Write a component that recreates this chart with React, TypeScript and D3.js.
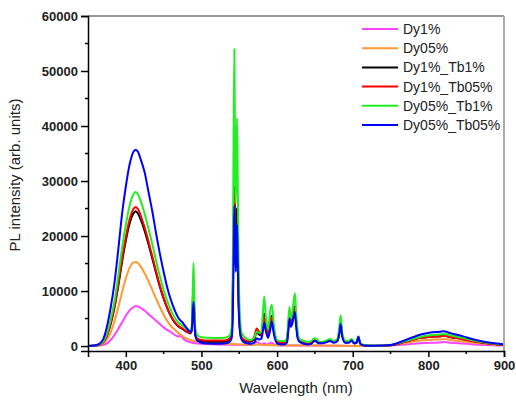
import React, { useEffect, useRef } from 'react';
import * as d3 from 'd3';

// spectra: [wavelength nm, PL intensity]
const dy1: [number, number][] = [
  [350, 0], [360, 30], [365, 80], [370, 200], [375, 500], [380, 1100], [385, 2000], [390, 3100],
  [395, 4300], [400, 5500], [405, 6500], [410, 7100], [413, 7300], [416, 7200], [420, 6900],
  [425, 6400], [430, 5800], [435, 5200], [440, 4600], [445, 4000], [450, 3400], [455, 2900],
  [460, 2500], [465, 2000], [470, 1700], [472, 1900], [475, 1500], [478, 1100], [482, 800],
  [485, 700], [490, 550], [500, 400], [520, 300], [540, 250], [560, 200], [570, 300], [573, 800],
  [576, 500], [580, 300], [583, 500], [586, 300], [590, 500], [593, 600], [596, 300], [600, 150],
  [650, 80], [700, 30], [730, 0], [750, 100], [770, 300], [790, 500], [805, 600], [815, 650],
  [820, 750], [830, 600], [845, 450], [860, 300], [875, 200], [890, 120], [900, 100],
];

const dy05: [number, number][] = [
  [350, 0], [360, 50], [365, 150], [370, 450], [375, 1200], [380, 2500], [385, 4500], [390, 7000],
  [395, 9800], [400, 12300], [405, 14200], [410, 15200], [413, 15300], [416, 15100], [420, 14400],
  [425, 13200], [430, 11800], [435, 10200], [440, 8600], [445, 7100], [450, 5700], [455, 4500],
  [460, 3600], [465, 2900], [470, 2300], [475, 1800], [478, 1500], [482, 1250], [485, 1100],
  [490, 950], [495, 850], [500, 750], [510, 600], [520, 500], [530, 400], [540, 350], [550, 300],
  [560, 250], [570, 220], [575, 300], [580, 200], [600, 150], [650, 80], [700, 30], [730, 0],
  [750, 150], [770, 600], [790, 1000], [805, 1150], [815, 1200], [820, 1300], [830, 1100],
  [845, 850], [860, 600], [875, 400], [890, 250], [900, 150],
];

const dy1Tb1: [number, number][] = [
  [350, 0], [360, 100], [365, 250], [370, 700], [375, 1900], [380, 4000], [385, 7000], [390, 10900],
  [395, 15300], [400, 19200], [405, 22300], [410, 24100], [413, 24500], [416, 24100], [420, 22900],
  [425, 20900], [430, 18500], [435, 15900], [440, 13300], [445, 10800], [450, 8600], [455, 6800],
  [460, 5300], [465, 4200], [470, 3500], [475, 3100], [478, 2800], [482, 2500], [485, 2300],
  [487, 2700], [488.5, 8000], [489.5, 10500], [490.5, 6500], [492, 2000], [495, 1100], [500, 900],
  [510, 800], [520, 800], [530, 800], [535, 1000], [538, 1300], [540, 2200], [541.5, 10000],
  [542.5, 22000], [543.5, 29000], [544.5, 25000], [545.3, 21000], [546, 23000], [547, 25000],
  [548, 18000], [549, 9500], [551, 3000], [553, 1400], [556, 1000], [560, 800], [565, 800],
  [570, 1400], [573, 2500], [576, 2100], [579, 1900], [581, 3800], [583, 5900], [585, 3800],
  [588, 2000], [591, 4200], [593, 5500], [596, 2600], [600, 800], [605, 500], [610, 500], [613, 900],
  [615, 3800], [616.5, 5800], [618, 4200], [620, 4800], [621.5, 6200], [623.5, 7200], [625, 5000],
  [627, 2000], [630, 900], [640, 400], [645, 500], [649, 1000], [652, 900], [655, 600], [660, 600],
  [665, 800], [670, 1000], [675, 700], [680, 1100], [682.5, 2800], [684, 4300], [686, 2000],
  [690, 700], [695, 700], [698.5, 1000], [702, 500], [705, 600], [707.5, 1500], [710, 400],
  [715, 100], [730, 50], [750, 150], [770, 800], [790, 1500], [805, 1700], [815, 1800], [820, 1900],
  [830, 1600], [845, 1300], [860, 850], [875, 550], [890, 330], [900, 200],
];

const dy1Tb05: [number, number][] = [
  [350, 0], [360, 100], [365, 250], [370, 700], [375, 2000], [380, 4200], [385, 7300], [390, 11300],
  [395, 15800], [400, 19800], [405, 23000], [410, 24900], [413, 25300], [416, 24900], [420, 23600],
  [425, 21500], [430, 19000], [435, 16300], [440, 13600], [445, 11000], [450, 8800], [455, 6900],
  [460, 5400], [465, 4300], [470, 3600], [475, 3200], [478, 2900], [482, 2600], [485, 2400],
  [487, 2700], [488.5, 7000], [489.5, 9500], [490.5, 6000], [492, 2000], [495, 1300], [500, 1100],
  [510, 1000], [520, 1000], [530, 1000], [535, 1200], [538, 1500], [540, 2500], [541.5, 10000],
  [542.5, 21000], [543.5, 28000], [544.5, 24000], [545.3, 19000], [546, 19500], [547, 21000],
  [548, 16000], [549, 9000], [551, 3000], [553, 1600], [556, 1200], [560, 1000], [565, 1000],
  [570, 1800], [573, 3200], [576, 2600], [579, 2000], [581, 3500], [583, 5300], [585, 3500],
  [588, 2200], [591, 4500], [593, 5200], [596, 2500], [600, 900], [605, 600], [610, 600], [613, 900],
  [615, 3600], [616.5, 5500], [618, 4000], [620, 4600], [621.5, 6000], [623.5, 7000], [625, 4800],
  [627, 1900], [630, 900], [640, 400], [645, 500], [649, 1000], [652, 900], [655, 600], [660, 600],
  [665, 800], [670, 1000], [675, 700], [680, 1100], [682.5, 2700], [684, 4200], [686, 2000],
  [690, 700], [695, 700], [698.5, 1000], [702, 500], [705, 600], [707.5, 1500], [710, 400],
  [715, 100], [730, 50], [750, 150], [770, 800], [790, 1500], [805, 1700], [815, 1750], [820, 1850],
  [830, 1600], [845, 1250], [860, 850], [875, 550], [890, 330], [900, 200],
];

const dy05Tb1: [number, number][] = [
  [350, 0], [360, 100], [365, 300], [370, 800], [375, 2300], [380, 4800], [385, 8200], [390, 12800],
  [395, 17800], [400, 22000], [405, 25500], [410, 27600], [413, 28000], [416, 27600], [420, 26200],
  [425, 24000], [430, 21300], [435, 18500], [440, 15500], [445, 12700], [450, 10200], [455, 8100],
  [460, 6400], [465, 5100], [470, 4200], [475, 3700], [478, 3400], [482, 3000], [485, 2800],
  [487, 3200], [488.5, 10000], [489.5, 15100], [490.5, 9000], [492, 3000], [495, 1900], [500, 1600],
  [510, 1500], [520, 1450], [530, 1500], [535, 1700], [538, 2100], [540, 3500], [541.5, 15000],
  [542.5, 38000], [543.5, 54000], [544.5, 33000], [545.3, 26000], [546, 35000], [547, 41400],
  [548, 30000], [549, 16000], [551, 5000], [553, 2500], [556, 1800], [560, 1300], [565, 1100],
  [570, 1600], [573, 2600], [576, 2400], [579, 2600], [581, 5500], [583, 9000], [585, 5500],
  [588, 3000], [591, 6500], [593, 7500], [596, 3500], [600, 1100], [605, 900], [610, 900],
  [613, 1500], [615, 5000], [616.5, 7100], [618, 5000], [620, 6000], [621.5, 7800], [623.5, 9600],
  [625, 6500], [627, 3000], [630, 1200], [640, 800], [645, 900], [649, 1400], [652, 1300],
  [655, 900], [660, 800], [665, 1000], [670, 1300], [675, 900], [680, 1400], [682.5, 3800],
  [684, 5600], [686, 2600], [690, 1000], [695, 900], [698.5, 1300], [702, 700], [705, 800],
  [707.5, 1800], [710, 500], [715, 200], [730, 50], [750, 200], [770, 900], [790, 1700], [805, 2000],
  [815, 2100], [820, 2200], [830, 1900], [845, 1500], [860, 1000], [875, 650], [890, 400], [900, 250],
];

const dy05Tb05: [number, number][] = [
  [350, 0], [360, 150], [365, 400], [370, 1200], [375, 3500], [380, 7000], [385, 11500], [390, 17500],
  [395, 24000], [400, 29000], [405, 33000], [410, 35300], [413, 35700], [416, 35300], [420, 33800],
  [425, 31500], [430, 28000], [435, 24500], [440, 20500], [445, 16800], [450, 13500], [455, 10500],
  [460, 8200], [465, 6400], [470, 5000], [475, 4300], [478, 3700], [482, 3000], [485, 2600],
  [487, 2800], [488.5, 6000], [489.5, 8000], [490.5, 5000], [492, 1800], [495, 900], [500, 600],
  [510, 450], [520, 400], [530, 450], [535, 600], [538, 900], [540, 1500], [541.5, 6000],
  [542.5, 16000], [543.5, 25500], [544.5, 20000], [545.3, 13500], [546, 17000], [547, 22000],
  [548, 15000], [549, 8000], [551, 2500], [553, 1200], [556, 700], [560, 500], [565, 400],
  [570, 700], [573, 1400], [576, 1200], [579, 1300], [581, 2500], [583, 4200], [585, 2800],
  [588, 1500], [591, 3000], [593, 4400], [596, 2000], [600, 500], [605, 300], [610, 300], [613, 600],
  [615, 3000], [616.5, 5000], [618, 3500], [620, 4000], [621.5, 5000], [623.5, 6200], [625, 4000],
  [627, 1500], [630, 700], [640, 300], [645, 400], [649, 900], [652, 800], [655, 500], [660, 500],
  [665, 700], [670, 900], [675, 600], [680, 1000], [682.5, 2500], [684, 4000], [686, 1800],
  [690, 600], [695, 600], [698.5, 1000], [702, 500], [705, 600], [707.5, 1700], [710, 400],
  [715, 100], [730, 50], [750, 200], [770, 1100], [790, 2100], [805, 2500], [815, 2600], [820, 2700],
  [830, 2300], [845, 1800], [860, 1200], [875, 750], [890, 450], [900, 300],
];

const seriesNames = ['Dy1%', 'Dy05%', 'Dy1%_Tb1%', 'Dy1%_Tb05%', 'Dy05%_Tb1%', 'Dy05%_Tb05%'];
const seriesData = [dy1, dy05, dy1Tb1, dy1Tb05, dy05Tb1, dy05Tb05];
const seriesColors = ['#ff44ff', '#ff9933', '#000000', '#ff0000', '#22ee22', '#0000ff'];

const xTicks = [400, 500, 600, 700, 800, 900];
const yTicks = [0, 10000, 20000, 30000, 40000, 50000, 60000];

export default function App() {
  const svgRef = useRef<SVGSVGElement>(null);

  useEffect(() => {
    const width = 516;
    const height = 400;
    const m = { left: 88, right: 504, top: 16, bottom: 351 };
    const font = '"Liberation Sans", Arial, sans-serif';

    const svg = d3.select(svgRef.current);
    svg.selectAll('*').remove();
    svg.attr('width', width).attr('height', height);

    const x = d3.scaleLinear().domain([350, 900]).range([m.left, m.right]);
    const y = d3.scaleLinear().domain([-900, 60000]).range([m.bottom, m.top]);

    // spectra
    const line = d3.line<[number, number]>()
      .x(d => x(d[0]))
      .y(d => y(d[1]))
      .curve(d3.curveMonotoneX);

    seriesData.forEach((s, i) => {
      svg.append('path')
        .attr('d', line(s))
        .attr('fill', 'none')
        .attr('stroke', seriesColors[i])
        .attr('stroke-width', 2)
        .attr('stroke-linejoin', 'round');
    });

    // frame
    svg.append('line')
      .attr('x1', m.left).attr('x2', m.right).attr('y1', m.top).attr('y2', m.top)
      .attr('stroke', '#333').attr('stroke-width', 1);
    svg.append('line')
      .attr('x1', m.right).attr('x2', m.right).attr('y1', m.top).attr('y2', m.bottom)
      .attr('stroke', '#aaa').attr('stroke-width', 2);

    // x axis
    const xAxis = d3.axisBottom(x).tickValues(xTicks).tickSize(6).tickPadding(4)
      .tickFormat(d3.format('d'));
    const gx = svg.append('g')
      .attr('transform', `translate(0,${m.bottom})`)
      .call(xAxis);
    gx.select('.domain').attr('stroke', '#000').attr('stroke-width', 1.5);
    gx.selectAll('.tick line').attr('stroke-width', 1.5);
    gx.selectAll('text')
      .attr('font-family', font).attr('font-size', 13).attr('font-weight', 'bold')
      .attr('fill', '#222');
    gx.selectAll('line.minor')
      .data(d3.range(450, 900, 100))
      .enter().append('line')
      .attr('x1', d => x(d)).attr('x2', d => x(d))
      .attr('y1', 0).attr('y2', 3)
      .attr('stroke', '#000').attr('stroke-width', 1.5);

    // y axis
    const yAxis = d3.axisLeft(y).tickValues(yTicks).tickSize(7).tickPadding(3)
      .tickFormat(d3.format('d'));
    const gy = svg.append('g')
      .attr('transform', `translate(${m.left},0)`)
      .call(yAxis);
    gy.select('.domain').attr('stroke', '#000').attr('stroke-width', 1.5);
    gy.selectAll('.tick line').attr('stroke-width', 1.5);
    gy.selectAll('text')
      .attr('font-family', font).attr('font-size', 13).attr('font-weight', 'bold')
      .attr('fill', '#222');
    gy.selectAll('line.minor')
      .data(d3.range(5000, 60000, 10000))
      .enter().append('line')
      .attr('x1', 0).attr('x2', -3)
      .attr('y1', d => y(d)).attr('y2', d => y(d))
      .attr('stroke', '#000').attr('stroke-width', 1.5);

    // axis titles
    svg.append('text')
      .attr('transform', 'translate(20,175) rotate(-90)')
      .attr('text-anchor', 'middle')
      .attr('font-family', font).attr('font-size', 15)
      .attr('fill', '#222')
      .text('PL intensity (arb. units)');

    svg.append('text')
      .attr('x', (m.left + m.right) / 2)
      .attr('y', 393)
      .attr('text-anchor', 'middle')
      .attr('font-family', font).attr('font-size', 15)
      .attr('fill', '#222')
      .text('Wavelength (nm)');

    // legend
    const legend = svg.append('g').attr('transform', 'translate(362,29)');
    seriesNames.forEach((name, i) => {
      const row = legend.append('g').attr('transform', `translate(0,${i * 19.2})`);
      row.append('line')
        .attr('x1', 0).attr('x2', 36).attr('y1', 0).attr('y2', 0)
        .attr('stroke', seriesColors[i]).attr('stroke-width', 2);
      row.append('text')
        .attr('x', 41).attr('y', 5)
        .attr('font-family', font).attr('font-size', 14)
        .attr('fill', '#222')
        .text(name);
    });
  }, []);

  return <svg ref={svgRef} style={{ position: 'absolute', left: 0, top: 0 }}></svg>;
}
